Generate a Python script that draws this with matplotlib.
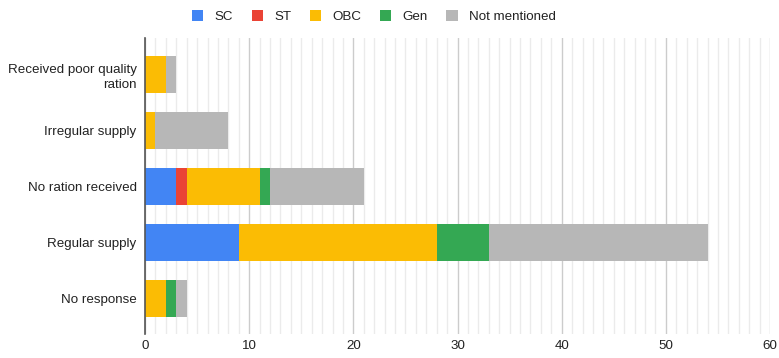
import numpy as np
import matplotlib.pyplot as plt
from matplotlib.ticker import MultipleLocator

plt.rcParams['font.family'] = ['Liberation Sans', 'DejaVu Sans']

# ration status by caste group (number of respondents)
categories = ['Received poor quality\nration', 'Irregular supply', 'No ration received',
              'Regular supply', 'No response']
sc = [0, 0, 3, 9, 0]
st = [0, 0, 1, 0, 0]
obc = [2, 1, 7, 19, 2]
gen = [0, 0, 1, 5, 1]
not_mentioned = [1, 7, 9, 21, 1]

series = [('SC', sc, '#4285f4'), ('ST', st, '#ea4335'), ('OBC', obc, '#fbbc04'),
          ('Gen', gen, '#34a853'), ('Not mentioned', not_mentioned, '#b7b7b7')]

fig = plt.figure(figsize=(7.79, 3.58), dpi=100)
ax = fig.add_axes([145 / 779, 24 / 358, 625 / 779, 296 / 358])

y = np.arange(len(categories))
left = np.zeros(len(categories))
for name, vals, color in series:
    vals = np.array(vals, dtype=float)
    ax.barh(y, vals, left=left, height=0.66, color=color, label=name, zorder=3)
    left += vals

ax.set_xlim(0, 60)
ax.set_ylim(4.64, -0.66)
ax.set_yticks(y)
ax.set_yticklabels(categories, fontsize=9.6, color='#222222', linespacing=1.25)
ax.xaxis.set_major_locator(MultipleLocator(10))
ax.xaxis.set_minor_locator(MultipleLocator(1))
ax.tick_params(axis='both', length=0, which='both')
ax.tick_params(axis='x', labelsize=9.6, labelcolor='#222222', pad=4)
ax.tick_params(axis='y', pad=6)
ax.grid(axis='x', which='major', color='#cccccc', linewidth=1, zorder=0)
ax.grid(axis='x', which='minor', color='#ebebeb', linewidth=1, zorder=0)
for side in ['top', 'right', 'bottom']:
    ax.spines[side].set_visible(False)
ax.spines['left'].set_color('#555555')
ax.spines['left'].set_linewidth(1.2)
ax.spines['left'].set_zorder(4)

fig.legend(loc='upper center', bbox_to_anchor=(0.48, 1.005), ncol=5, frameon=False,
           fontsize=9.6, handlelength=0.85, handleheight=0.85, handletextpad=0.85,
           columnspacing=1.38, labelcolor='#222222')

fig.savefig('out.png', dpi=100)
